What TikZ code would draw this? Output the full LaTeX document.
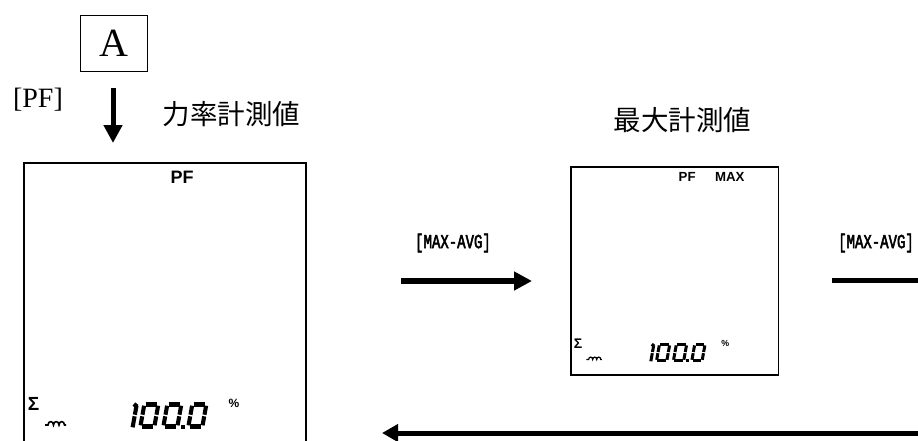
\documentclass[tikz,border=0pt]{standalone}
\usepackage{fontspec}
\setmainfont{Liberation Serif}
\newfontfamily\cjk{Noto Sans CJK JP}
\newfontfamily\lcdfont{Liberation Sans}
\newfontfamily\keyfont[FakeStretch=0.7,FakeBold=2.5]{Liberation Mono}
\usetikzlibrary{arrows.meta}
\tikzset{
  lcdlbl/.style={font=\lcdfont\bfseries\fontsize{18}{18}\selectfont, inner sep=0pt},
  sigmalbl/.style={font=\lcdfont\bfseries\fontsize{19}{19}\selectfont, inner sep=0pt},
  pctlbl/.style={font=\lcdfont\bfseries\fontsize{12}{12}\selectfont, inner sep=0pt},
  cjklbl/.style={font=\cjk\fontsize{27.5}{27.5}\selectfont, inner sep=0pt},
  keylbl/.style={font=\keyfont\fontsize{20}{20}\selectfont, inner sep=0pt},
  fatarrow/.style={line width=5pt, -{Triangle[width=18pt,length=18pt]}},
}
\newcommand\lcdzero[2]{%
  \begin{scope}[shift={(#1,#2)}, xslant=0.18]
    \draw[seg] (3.2,-24.0)--(14.8,-24.0);
    \draw[seg] (2.0,-22.8)--(2.0,-13.8);
    \draw[seg] (16.0,-22.8)--(16.0,-13.8);
    \draw[seg] (2.0,-12.2)--(2.0,-3.2);
    \draw[seg] (16.0,-12.2)--(16.0,-3.2);
    \draw[seg] (3.2,-2.0)--(14.8,-2.0);
  \end{scope}}
\newcommand\lcdone[2]{%
  \begin{scope}[shift={(#1,#2)}, xslant=0.18]
    \draw[seg] (3.4,-22.8)--(3.4,-13.8);
    \draw[seg] (3.4,-12.2)--(3.4,-1.2);
    \draw[seg] (1.2,-21.5)--(3.4,-24.8);
  \end{scope}}
\newcommand\meter[4]{%
  \begin{scope}[shift={(#1,#2)}, scale=#3, every node/.append style={transform shape},
      seg/.style={line width=#3*4.1pt, line cap=butt}]
    \draw[line width=1.3pt] (0,0) rectangle (282,283);
    #4
    \node[sigmalbl] at (9.5,241) {Σ};
    \draw[line width=#3*1.6pt] (21,262) -- (24,262)
      .. controls (24,257.5) and (29.5,257.5) .. (29.5,262)
      .. controls (29.5,257.5) and (35,257.5) .. (35,262)
      .. controls (35,257.5) and (40.5,257.5) .. (40.5,262) -- (42,262);
    \lcdone{105}{265.5}
    \lcdzero{114}{265.5}
    \lcdzero{137}{265.5}
    \fill (157,261.5) rectangle (160.5,265.5);
    \lcdzero{162}{265.5}
    \node[pctlbl] at (210,240) {\%};
  \end{scope}}

\begin{document}
\begin{tikzpicture}[x=1pt,y=-1pt]
  \useasboundingbox (0,0) rectangle (918,440);
  \clip (0,0) rectangle (918,440);

  \node[draw, line width=1pt, minimum width=67pt, minimum height=56pt, inner sep=0pt,
        font=\fontsize{40}{40}\selectfont] (A) at (113.5,43) {A};
  \node[font=\fontsize{28}{28}\selectfont, inner sep=0pt] (pf) at (38,100) {[PF]};
  \coordinate (d1) at (113,88);
  \coordinate (d2) at (113,143);
  \draw[fatarrow] (d1) -- (d2);
  \node[cjklbl] (t1) at (231.5,114) {力率計測値};
  \node[cjklbl] (t2) at (682.5,120) {最大計測値};

  \meter{24}{163}{1}{\node[lcdlbl] at (158,14) {PF};}
  \meter{571}{167}{0.735}{\node[lcdlbl] at (158,14) {PF}; \node[lcdlbl] at (216,14) {MAX};}

  \node[keylbl] (k1) at (453,243) {[MAX-AVG]};
  \node[keylbl] (k2) at (876,243) {[MAX-AVG]};

  \coordinate (r1) at (401,281);
  \coordinate (r2) at (532,281);
  \draw[line width=6pt, -{Triangle[width=18pt,length=18pt]}] (r1) -- (r2);

  \coordinate (s1) at (832,280);
  \coordinate (s2) at (925,280);
  \draw[line width=5pt] (s1) -- (s2);

  \coordinate (b1) at (925,433);
  \coordinate (b2) at (382,433);
  \draw[line width=5pt, -{Triangle[width=17pt,length=16pt]}] (b1) -- (b2);
\end{tikzpicture}
\end{document}
